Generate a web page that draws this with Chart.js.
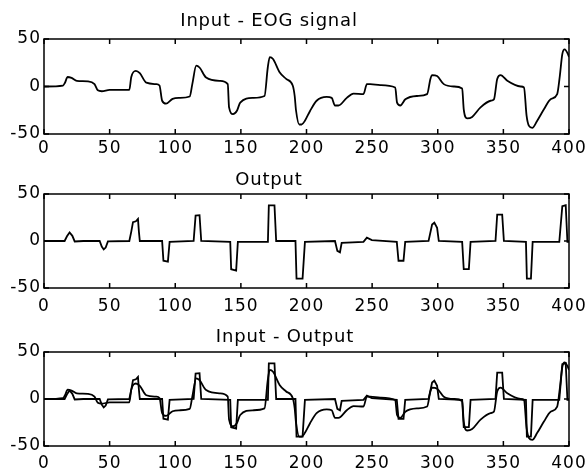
<!DOCTYPE html>
<html><head><meta charset="utf-8">
<script src="https://cdn.jsdelivr.net/npm/chart.js@4"></script>
<style>
html,body{margin:0;padding:0;background:#fff;width:588px;height:474px;overflow:hidden}
canvas{position:absolute;left:0}
</style></head><body>
<canvas id="c1" width="588" height="157" style="top:0"></canvas>
<canvas id="c2" width="588" height="157" style="top:157px"></canvas>
<canvas id="c3" width="588" height="160" style="top:314px"></canvas>
<script>
const inputX = [0,14.5,16,18,21,25,33.5,38.5,41,44,50,65,66.5,70,73,78,85.5,88,90,93,98,103,111,113,116,118.5,123.5,134,140,141,144,147,149.5,159,168,170.5,172,174.5,179.5,184.5,189.5,191,192,194.5,196.3,198.8,202.6,207.7,215.4,219.2,221.7,224.3,230.7,235.8,243.4,246,248.5,256.2,267.6,269,271.5,275.3,284.2,291.9,294.4,295.7,299.5,304.6,312.2,318.6,319.8,322.4,326.2,332.6,340.2,342.8,345.3,347.9,353,363.1,365.7,367.7,369.5,372,375.8,380.9,386,391,393,394.9,396.7,399.2,400];
const inputY = [0,1,4,10,9,6,5.5,2.5,-4,-5,-3.5,-3.5,10,16.5,14,4,2.5,1,-15,-18,-13,-12,-10.5,2.5,22,20,9.5,6,2.5,-22,-29,-25.5,-17,-12,-10,20,31,29,15,8,1,-10,-25,-40,-40,-36,-26,-15,-11,-12,-20,-20,-12,-7.5,-8,2.5,2.5,1.5,-1,-17,-20,-13.5,-10,-8,8,12,11,2.5,0,-2,-24,-33.5,-32,-22,-15,-13.5,8,12,6,0,-1,-31,-41.5,-43.5,-36,-24,-13.5,-8,11,34,39,34,31];
const outputX = [0,15.7,17.5,19.5,21.6,23.4,30,42.4,44,45.5,47,48.7,65,66.5,67.8,70,71.6,72.3,73,90,91,94.4,95.7,114,115.5,118.5,119.8,141.9,142.6,146.4,147.7,170.6,171.3,175.6,176.9,191.6,192.4,197,198.8,221.7,223.5,225.5,226.8,243.4,246,249.8,268.8,270.1,273.9,275.2,293,295.7,297.4,299.5,300.8,318.6,319.8,323.7,325,344,345.3,349.1,350.4,367.2,367.9,371,372.3,392.6,394.9,397.5,398.8,400];
const outputY = [0,0,5,9,5.5,-0.5,0,0,-6,-9,-7,-0.5,0,10,20,21,23.5,10,0,0,-21,-22,-1,0,27,27.5,0,-1,-30,-31.5,-1,-1,38,38,0,0,-40,-40,-1,0,-10.5,-12,-2,-1,3.5,1,-1,-21,-21,-1,0,17.5,19.5,14,0,-1,-30,-30,-1,0,28,28,0,-1,-40,-40,-1,-1,37,38,-1,-1];
const xTicks = [0,50,100,150,200,250,300,350,400];
const yTicks = [-50,0,50];
const titles = ['Input - EOG signal','Output','Input - Output'];

function pts(xs, ys){ return xs.map((x,i)=>({x:x, y:ys[i]})); }
const FAMILY = "'DejaVu Sans', sans-serif";
const TICK_SPACING = '1px';

const frame = {
  id:'frame',
  beforeLayout(chart){ chart.ctx.letterSpacing = TICK_SPACING; },
  beforeDraw(chart){ chart.ctx.letterSpacing = TICK_SPACING; },
  afterDraw(chart, args, opts){
    const ctx = chart.ctx, a = chart.chartArea, x = chart.scales.x, y = chart.scales.y;
    ctx.save();
    ctx.strokeStyle = '#000'; ctx.lineWidth = 1.5;
    ctx.strokeRect(a.left, a.top, a.width, a.height);
    ctx.beginPath();
    xTicks.forEach(v=>{ const p = x.getPixelForValue(v);
      ctx.moveTo(p, a.bottom); ctx.lineTo(p, a.bottom-5);
      ctx.moveTo(p, a.top); ctx.lineTo(p, a.top+5); });
    yTicks.forEach(v=>{ const p = y.getPixelForValue(v);
      ctx.moveTo(a.left, p); ctx.lineTo(a.left+5, p);
      ctx.moveTo(a.right, p); ctx.lineTo(a.right-5, p); });
    ctx.stroke();
    ctx.letterSpacing = '0.8px';
    ctx.font = '18px ' + FAMILY;
    ctx.fillStyle = '#000'; ctx.textAlign = 'center'; ctx.textBaseline = 'alphabetic';
    ctx.fillText(opts.text, opts.cx, opts.base);
    ctx.restore();
  }
};

function lineDs(data, smooth){
  return {data:data, borderColor:'#000', borderWidth:1.8, pointRadius:0, fill:false,
    tension: smooth ? 0.4 : 0, cubicInterpolationMode: smooth ? 'monotone' : 'default'};
}

function makeChart(id, datasets, title, plotTop, xAxisH, xPad, cx, base){
  return new Chart(document.getElementById(id), {
    type:'line',
    data:{datasets:datasets},
    plugins:[frame],
    options:{
      responsive:false, animation:false, devicePixelRatio:1,
      layout:{padding:{top:plotTop, right:19, left:0, bottom:0}},
      plugins:{legend:{display:false}, title:{display:false}, tooltip:{enabled:false},
        frame:{text:title, cx:cx, base:base}},
      scales:{
        x:{type:'linear', min:0, max:400,
          ticks:{stepSize:50, color:'#000', font:{family:FAMILY, size:17}, padding:xPad, maxRotation:0, autoSkip:false},
          grid:{display:false, drawTicks:false}, border:{display:false},
          afterFit(s){ s.height = xAxisH; s.paddingLeft = 0; s.paddingRight = 0; }},
        y:{type:'linear', min:-50, max:50,
          ticks:{stepSize:50, color:'#000', font:{family:FAMILY, size:17}, padding:3},
          grid:{display:false, drawTicks:false}, border:{display:false},
          afterFit(s){ s.width = 44; s.paddingTop = 0; s.paddingBottom = 0; }}
      }
    }
  });
}

makeChart('c1', [lineDs(pts(inputX, inputY), true)], titles[0], 39, 23, 4, 269, 26);
makeChart('c2', [lineDs(pts(outputX, outputY), false)], titles[1], 37, 26, 8, 269, 28);
makeChart('c3', [lineDs(pts(inputX, inputY), true), lineDs(pts(outputX, outputY), false)], titles[2], 38, 28, 7, 285, 28);
</script>
</body></html>
